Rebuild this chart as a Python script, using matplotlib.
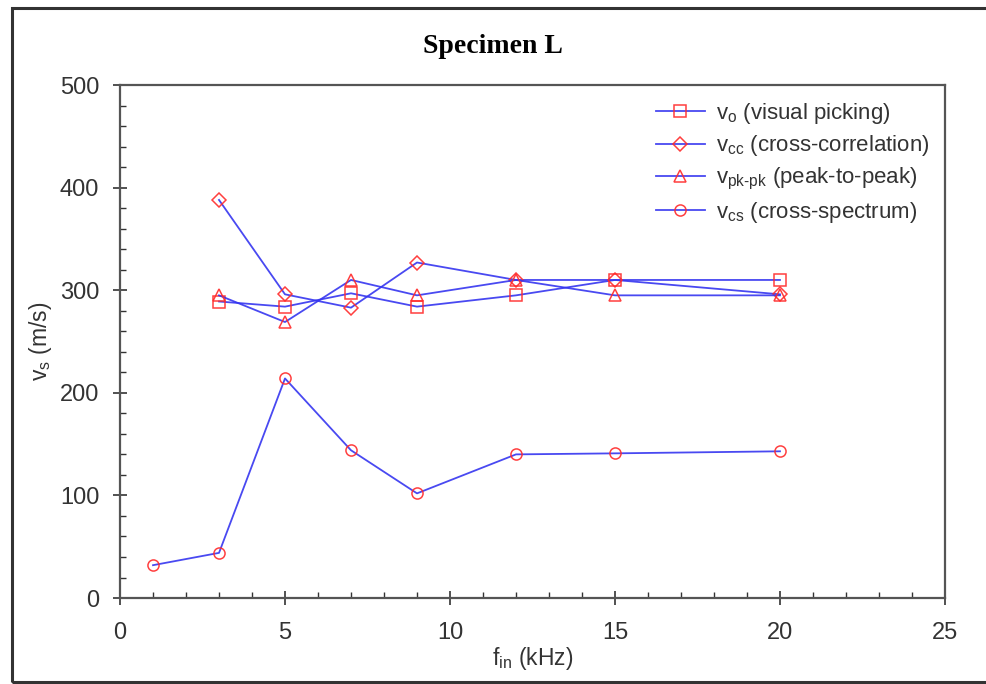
import matplotlib
matplotlib.use("Agg")
import matplotlib.pyplot as plt
from matplotlib.patches import Rectangle
from matplotlib.ticker import MultipleLocator

plt.rcParams['font.family'] = ['Liberation Sans', 'DejaVu Sans']
plt.rcParams['mathtext.fontset'] = 'custom'
plt.rcParams['mathtext.rm'] = 'Liberation Sans'
plt.rcParams['mathtext.it'] = 'Liberation Sans'

# Input frequency (kHz) and shear-wave velocity estimates (m/s)
f_main = [3, 5, 7, 9, 12, 15, 20]
v_visual = [289, 284, 297, 284, 295, 310, 310]
v_cc = [388, 296, 283, 327, 310, 310, 296]
v_pkpk = [295, 269, 310, 295, 310, 295, 295]

f_cs = [1, 3, 5, 7, 9, 12, 15, 20]
v_cs = [32, 44, 214, 144, 102, 140, 141, 143]

labels = [r"v$_{\rm o}$ (visual picking)",
          r"v$_{\rm cc}$ (cross-correlation)",
          r"v$_{\rm pk\text{-}pk}$ (peak-to-peak)",
          r"v$_{\rm cs}$ (cross-spectrum)"]

fig = plt.figure(figsize=(9.87, 6.84), dpi=100)
ax = fig.add_axes([0.1216, 0.1257, 0.8358, 0.750])

line_kw = dict(color='#3535f0', lw=1.3, alpha=0.9, mfc='none', mec='#ff2a2a',
               mew=1.1, ms=8)
ax.plot(f_main, v_visual, marker='s', label=labels[0], **line_kw)
ax.plot(f_main, v_cc, marker='D', label=labels[1], **{**line_kw, 'ms': 7})
ax.plot(f_main, v_pkpk, marker='^', label=labels[2], **line_kw)
ax.plot(f_cs, v_cs, marker='o', label=labels[3], **line_kw)

ax.set_xlim(0, 25)
ax.set_ylim(0, 500)
ax.xaxis.set_major_locator(MultipleLocator(5))
ax.xaxis.set_minor_locator(MultipleLocator(1))
ax.yaxis.set_major_locator(MultipleLocator(100))
ax.yaxis.set_minor_locator(MultipleLocator(20))
ax.tick_params(which='major', direction='inout', length=10, width=1.2,
               labelsize=17, colors='#333333')
ax.tick_params(axis='x', which='major', pad=12)
ax.tick_params(axis='y', which='major', pad=10)
ax.tick_params(which='minor', direction='in', length=4, width=1.0, colors='#333333')
ax.tick_params(axis='x', which='both', top=False)
ax.tick_params(axis='y', which='both', right=False)
for sp in ax.spines.values():
    sp.set_color('#555555')
    sp.set_linewidth(1.6)

ax.set_xlabel(r"f$_{\rm in}$ (kHz)", fontsize=16.5, color='#333333', labelpad=1)
ax.set_ylabel(r"v$_{\rm s}$ (m/s)", fontsize=16.5, color='#333333', labelpad=4)

ax.legend(loc='upper right', bbox_to_anchor=(1.0, 1.0), frameon=False,
          fontsize=16, handlelength=2.2, handletextpad=0.5, labelspacing=0.35,
          borderaxespad=0.3, labelcolor='#333333')

fig.text(0.499, 0.932, "Specimen L", ha='center', va='center',
         fontsize=20, fontweight='bold', family='Liberation Serif')

# Outer frame around the figure
fig.patches.append(Rectangle((0.012, 0.003), 1.2, 0.985, transform=fig.transFigure,
                             fill=False, ec='#333333', lw=2.2))

fig.savefig("out.png", dpi=100)
